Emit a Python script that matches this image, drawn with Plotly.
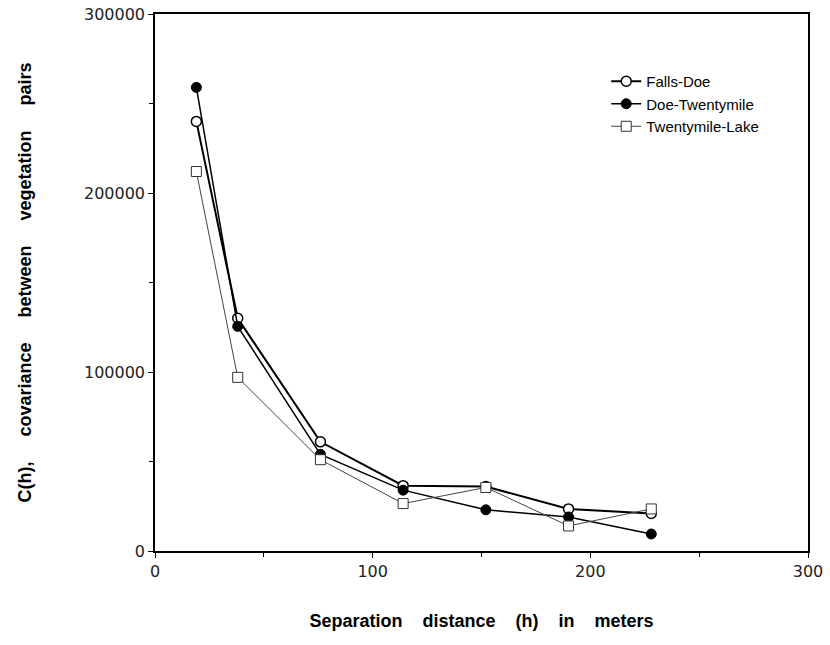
import plotly.graph_objects as go

# Data
distance = [19, 38, 76, 114, 152, 190, 228]
falls_doe = [240000, 130000, 61000, 36500, 36000, 23500, 21000]
doe_twentymile = [259000, 125500, 54000, 34000, 23000, 19000, 9500]
twentymile_lake = [212000, 97000, 51000, 26500, 35500, 14000, 23500]

x_ticks = [0, 100, 200, 300]
y_ticks = [0, 100000, 200000, 300000]

NB = "\u00a0"
XGAP = NB * 4
YGAP = NB * 5

fig = go.Figure()
fig.add_trace(go.Scatter(
    x=distance, y=falls_doe, name="Falls-Doe", legendgroup="a",
    mode="lines+markers",
    line=dict(color="black", width=2),
    marker=dict(symbol="circle", size=10, color="white", line=dict(color="black", width=1.5)),
))
fig.add_trace(go.Scatter(
    x=distance, y=doe_twentymile, name="Doe-Twentymile", legendgroup="b",
    mode="lines+markers",
    line=dict(color="black", width=1.5),
    marker=dict(symbol="circle", size=10, color="black", line=dict(color="black", width=1)),
))
fig.add_trace(go.Scatter(
    x=distance, y=twentymile_lake, name="Twentymile-Lake", legendgroup="c",
    mode="lines+markers",
    line=dict(color="#444444", width=1),
    marker=dict(symbol="square", size=10, color="white", line=dict(color="#333333", width=1)),
))

tick_font = dict(family="DejaVu Sans, sans-serif", size=16, color="#222222")
title_font = dict(family="Liberation Sans, Arial, sans-serif", size=18, color="black")

fig.update_layout(
    width=830, height=645,
    margin=dict(l=155, r=22, t=14, b=94),
    paper_bgcolor="white", plot_bgcolor="white",
    showlegend=True,
    legend=dict(
        x=0.691, y=0.905, xanchor="left", yanchor="top",
        font=dict(family="Liberation Sans, Arial, sans-serif", size=15, color="black"),
        bgcolor="rgba(0,0,0,0)", tracegroupgap=0,
    ),
    xaxis=dict(
        range=[0, 300], tickvals=x_ticks, ticktext=[str(v) for v in x_ticks],
        showgrid=False, zeroline=False, showline=True, linecolor="black", linewidth=1.5,
        mirror=True, ticks="outside", ticklen=5, tickcolor="black", tickwidth=1,
        minor=dict(dtick=50, ticks="outside", ticklen=4, tickcolor="black"),
        tickfont=tick_font, automargin=False,
        title=dict(text="<b>Separation" + XGAP + "distance" + XGAP + "(h)" + XGAP + "in" + XGAP + "meters</b>",
                   font=title_font, standoff=34),
    ),
    yaxis=dict(
        range=[0, 300000], tickvals=y_ticks, ticktext=[str(v) for v in y_ticks],
        showgrid=False, zeroline=False, showline=True, linecolor="black", linewidth=1.5,
        mirror=True, ticks="outside", ticklen=5, tickcolor="black", tickwidth=1,
        minor=dict(dtick=50000, ticks="outside", ticklen=4, tickcolor="black"),
        tickfont=tick_font, automargin=False,
        title=dict(text="<b>C(h)," + YGAP + "covariance" + YGAP + "between" + YGAP + "vegetation" + YGAP + "pairs</b>",
                   font=title_font, standoff=48),
    ),
)

fig.write_html(
    "out.html",
    config={"displayModeBar": False},
    post_script="document.body.style.margin='0';document.body.style.overflow='hidden';",
)
